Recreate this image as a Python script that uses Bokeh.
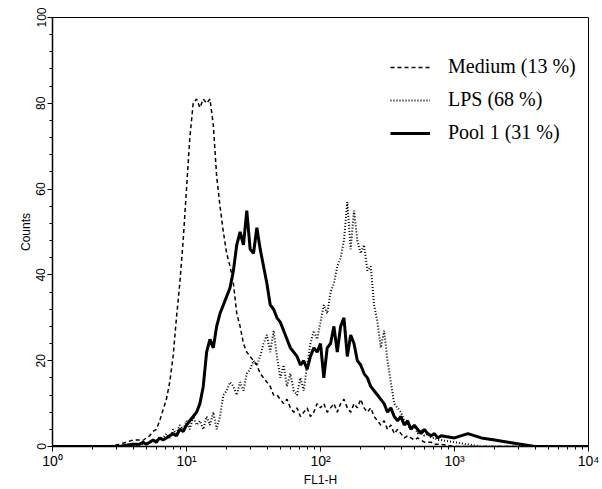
from bokeh.plotting import figure
from bokeh.models import Legend, LegendItem, FixedTicker, SingleIntervalTicker
from bokeh.embed import file_html
from bokeh.resources import INLINE

# FL1-H channel values (log-spaced bins)
fl1 = [1.0, 1.585, 2.512, 3.162, 3.548, 3.981, 4.467,
       4.732, 5.012, 5.309, 5.623, 5.957, 6.310, 6.683, 7.079, 7.499, 7.943, 8.414, 8.913, 9.441,
       10.0, 10.59, 11.22, 11.89, 12.59, 13.34, 14.13, 14.96, 15.85, 16.79,
       17.78, 18.84, 19.95, 21.13, 22.39, 23.71, 25.12, 26.61, 28.18, 29.85,
       31.62, 33.50, 35.48, 37.58, 39.81, 42.17, 44.67, 47.32, 50.12, 53.09,
       56.23, 59.57, 63.10, 66.83, 70.79, 74.99, 79.43, 84.14, 89.13, 94.41,
       100.0, 105.9, 112.2, 118.9, 125.9, 133.4, 141.3, 149.6, 158.5, 167.9,
       177.8, 188.4, 199.5, 211.3, 223.9, 237.1, 251.2, 266.1, 281.8, 298.5,
       316.2, 335.0, 354.8, 375.8, 398.1, 421.7, 446.7, 473.2, 501.2, 530.9,
       562.3, 595.7, 631.0, 668.3, 707.9, 749.9, 794.3,
       1000, 1259, 1585, 1995, 2512, 3981, 10000]

medium = [0, 0, 0, 0.5, 1, 1.5, 1.5,
          1.4, 2, 2.5, 3.5, 4, 6, 8.5, 11, 15, 21, 30, 38, 48,
          60, 72, 80, 81, 79, 81, 80, 81, 75, 63,
          56, 50, 45, 42, 38, 31, 28, 24, 22, 21,
          20, 19, 17, 16, 15, 14, 12, 12, 11, 10,
          11, 9, 8, 9, 7, 8, 9, 7, 8, 10,
          9, 10, 8, 9, 10, 8, 10, 11, 9, 8,
          10, 9, 11, 9, 8, 9, 7, 6, 5, 6,
          4, 5, 3, 4, 3, 2, 2.5, 2, 1.5, 2,
          1.5, 1, 1, 1, 0.5, 0.5, 0.5,
          0, 0, 0, 0, 0, 0, 0]

lps = [0, 0, 0, 0, 0, 0, 0.5,
       0.5, 0.5, 1, 1, 1.5, 2, 2, 3, 2, 4, 3, 5, 4,
       6, 4, 7, 5, 6, 4, 7, 5, 8, 4,
       7, 12, 13, 15, 14, 12, 15, 13, 17, 18,
       20, 19, 21, 24, 26, 22, 27, 21, 16, 19,
       14, 17, 13, 12, 16, 13, 19, 24, 27, 25,
       29, 33, 31, 36, 38, 42, 44, 48, 57, 46,
       55, 48, 45, 47, 41, 42, 33, 29, 23, 27,
       20, 15, 10, 9, 8, 6, 5, 4, 5, 3,
       4, 2.5, 3, 2, 2, 1.5, 1.5,
       1, 0.5, 0, 0, 0, 0, 0]

pool1 = [0, 0, 0, 0, 0.3, 0.5, 0.5,
         1, 0.5, 1, 1.5, 1, 2, 1.5, 2, 2.5, 3, 2.5, 4, 3.5,
         5, 6, 7, 8, 10, 14, 22, 25, 23, 28,
         31, 33, 35, 37, 41, 47, 50, 47, 55, 46,
         45, 51, 46, 42, 38, 33, 32, 30, 29, 27,
         25, 23, 22, 21, 19, 20, 18, 21, 23, 22,
         24, 16, 23, 24, 28, 22, 28, 30, 21, 26,
         24, 20, 19, 17, 16, 14, 13, 12, 11, 10,
         8, 9, 7, 6, 7, 5, 6, 4, 5, 4,
         3, 4, 3, 2.5, 3, 2, 2.5,
         2, 3, 2, 1.5, 1, 0, 0]

labels = ["Medium (13 %)", "LPS (68 %)", "Pool 1 (31 %)"]
x_major = [1, 10, 100, 1000, 10000]
x_major_labels = ["10\u2070", "10\u00b9", "10\u00b2", "10\u00b3", "10\u2074"]

p = figure(width=602, height=489, x_axis_type="log", x_range=(1, 10000), y_range=(0, 100),
           output_backend="svg", toolbar_location=None,
           min_border_left=52, min_border_right=14, min_border_top=17, min_border_bottom=40)
p.grid.visible = False
p.outline_line_color = "black"
p.outline_line_width = 1
p.background_fill_color = "white"

r_med = p.line(fl1, medium, line_color="black", line_width=1.5, line_dash="4 3")
r_lps = p.line(fl1, lps, line_color="black", line_width=2, line_dash="1 2")
r_pool = p.line(fl1, pool1, line_color="black", line_width=3)

minor = [m * d for d in (1, 10, 100, 1000) for m in range(2, 10)]
p.xaxis.ticker = FixedTicker(ticks=x_major, minor_ticks=minor)
p.xaxis.major_label_overrides = {t: lab for t, lab in zip(x_major, x_major_labels)}
p.yaxis.ticker = SingleIntervalTicker(interval=20, num_minor_ticks=5)
p.yaxis.major_label_orientation = "vertical"

for ax in (p.xaxis[0], p.yaxis[0]):
    ax.axis_line_width = 1.5
    ax.axis_line_color = "black"
    ax.major_tick_line_color = "black"
    ax.minor_tick_line_color = "black"
    ax.major_tick_out = 5
    ax.major_tick_in = 0
    ax.minor_tick_out = 3
    ax.minor_tick_in = 0
    ax.major_label_text_font = "Liberation Sans"
    ax.major_label_text_font_size = "12px"
    ax.major_label_text_color = "black"
    ax.major_label_standoff = 2
    ax.axis_label_text_font = "Liberation Sans"
    ax.axis_label_text_font_size = "12px"
    ax.axis_label_text_color = "black"
    ax.axis_label_text_font_style = "normal"
    ax.axis_label_standoff = 1

p.xaxis.major_label_text_font_size = "14px"
p.xaxis.major_label_standoff = 1

p.xaxis.axis_label = "FL1-H"
p.yaxis.axis_label = "Counts"

legend = Legend(items=[LegendItem(label=labels[0], renderers=[r_med]),
                       LegendItem(label=labels[1], renderers=[r_lps]),
                       LegendItem(label=labels[2], renderers=[r_pool])],
                location=(338, 302), orientation="vertical",
                label_text_font="Liberation Serif", label_text_font_size="20px",
                label_text_color="black",
                glyph_width=40, glyph_height=20, label_height=20, label_standoff=18,
                spacing=10, padding=0, margin=0,
                border_line_color=None, background_fill_alpha=0)
p.add_layout(legend)

open("out.html", "w").write(file_html(p, INLINE))
